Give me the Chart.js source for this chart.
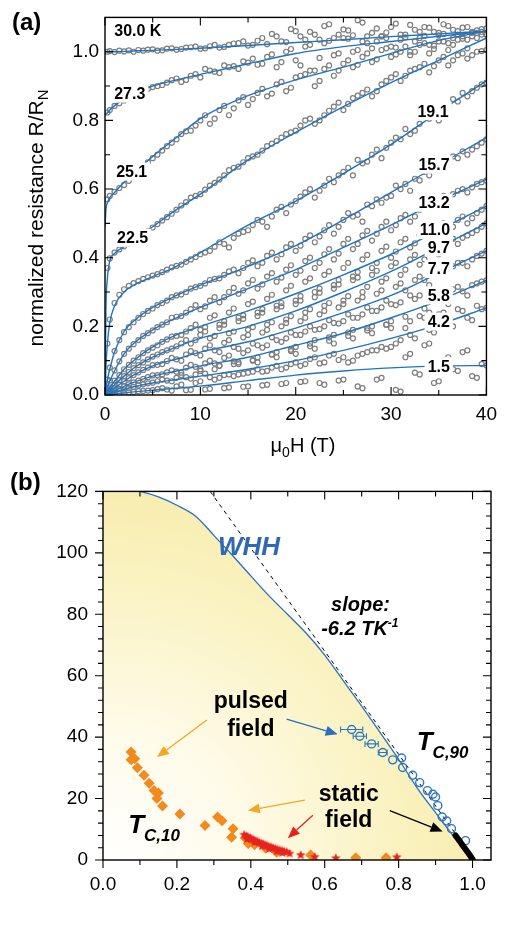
<!DOCTYPE html>
<html lang="en">
<head>
<meta charset="UTF-8">
<title>Magnetoresistance and phase diagram</title>
<script src="https://cdn.jsdelivr.net/npm/chart.js"></script>
<style>
  body { margin: 0; padding: 0; background: #fff; }
  #wrap { position: relative; width: 505px; height: 933px; }
  #wrap canvas { position: absolute; left: 0; }
  #chartA { top: 0; }
  #chartB { top: 465px; }
</style>
</head>
<body>
<div id="wrap">
  <canvas id="chartA" width="505" height="465" style="width:505px;height:465px"></canvas>
  <canvas id="chartB" width="505" height="468" style="width:505px;height:468px"></canvas>
</div>
<script>
// ---------- panel (a): R/RN vs field ----------
const A_GRID_H = [0.25, 0.5, 1, 1.5, 2, 2.5, 3, 3.5, 4,
  5, 6, 7, 8, 9, 10, 11, 12, 13, 14, 15, 16,
  17, 18, 19, 20, 21, 22, 23, 24, 25, 26, 27, 28,
  29, 30, 31, 32, 33, 34, 35, 36, 37, 38, 39, 40];
const A_GRID_H2 = [4.5, 5.5, 6.5, 7.5, 8.5, 9.5, 10.5, 11.5, 12.5, 13.5, 14.5, 15.5,
  16.5, 17.5, 18.5, 19.5, 20.5, 21.5, 22.5, 23.5, 24.5, 25.5, 26.5, 27.5,
  28.5, 29.5, 30.5, 31.5, 32.5, 33.5, 34.5, 35.5, 36.5, 37.5, 38.5, 39.5];
const A_FIT_H = [0, 0.1, 0.25, 0.5, 1, 2, 3, 5, 7.5, 10, 15, 20, 25, 30, 35, 40];
const A_X_TICKS = [0, 10, 20, 30, 40];
const A_Y_TICKS = [0, 0.2, 0.4, 0.6, 0.8, 1.0];

// measured points (gray circles) at A_GRID_H
const PTS_30_0 = [1.000,1.002,0.999,1.003,1.001,1.004,1.000,1.005,1.003,
  1.007,1.004,1.010,1.008,1.013,1.009,1.016,1.012,1.020,1.025,1.018,1.032,
  1.022,1.045,1.028,1.060,1.035,1.050,1.075,1.040,1.065,1.048,1.085,1.055,
  1.045,1.072,1.050,1.078,1.058,1.070,1.055,1.075,1.060,1.072,1.062,1.068];
const PTS_27_3 = [0.823,0.830,0.842,0.850,0.858,0.866,0.872,0.878,0.885,
  0.897,0.903,0.917,0.912,0.930,0.925,0.945,0.938,0.955,0.950,0.968,0.962,
  0.985,0.955,1.000,0.975,1.015,0.945,1.025,0.990,1.040,1.000,1.030,1.010,
  1.045,1.015,1.035,1.000,1.040,1.020,1.048,1.025,1.050,1.035,1.055,1.050];
const PTS_25_1 = [0.570,0.580,0.592,0.603,0.612,0.624,0.638,0.650,0.662,
  0.690,0.712,0.735,0.760,0.770,0.800,0.790,0.830,0.815,0.858,0.845,0.880,
  0.870,0.905,0.885,0.925,0.935,0.900,0.950,0.930,0.965,0.955,0.985,0.970,
  1.005,0.985,1.000,0.990,1.020,0.995,1.030,1.005,1.035,1.010,1.040,1.050];
const PTS_22_5 = [0.370,0.398,0.415,0.424,0.433,0.440,0.449,0.456,0.465,
  0.488,0.508,0.528,0.552,0.575,0.585,0.610,0.628,0.655,0.665,0.690,0.700,
  0.725,0.740,0.760,0.770,0.800,0.790,0.815,0.840,0.830,0.865,0.880,0.870,
  0.905,0.925,0.915,0.945,0.955,0.940,0.975,0.960,0.990,0.980,1.000,1.005];
const PTS_19_1 = [0.150,0.220,0.268,0.292,0.308,0.318,0.326,0.332,0.338,
  0.348,0.358,0.372,0.380,0.395,0.410,0.420,0.445,0.430,0.470,0.480,0.510,
  0.490,0.540,0.530,0.565,0.590,0.575,0.610,0.620,0.650,0.640,0.675,0.700,
  0.690,0.735,0.745,0.760,0.790,0.805,0.800,0.840,0.855,0.870,0.895,0.910];
const PTS_15_7 = [0.045,0.080,0.128,0.160,0.183,0.198,0.212,0.225,0.236,
  0.252,0.268,0.285,0.293,0.310,0.318,0.335,0.340,0.360,0.355,0.385,0.375,
  0.405,0.395,0.430,0.420,0.455,0.445,0.480,0.470,0.510,0.520,0.505,0.550,
  0.560,0.580,0.600,0.595,0.625,0.640,0.655,0.680,0.690,0.700,0.725,0.745];
const PTS_13_2 = [0.020,0.042,0.072,0.098,0.120,0.135,0.148,0.160,0.172,
  0.188,0.205,0.225,0.230,0.250,0.250,0.275,0.270,0.300,0.295,0.325,0.310,
  0.345,0.330,0.365,0.350,0.390,0.370,0.410,0.395,0.440,0.425,0.465,0.450,
  0.490,0.480,0.515,0.505,0.540,0.545,0.570,0.575,0.595,0.590,0.615,0.625];
const PTS_11_0 = [0.010,0.022,0.042,0.058,0.075,0.088,0.100,0.110,0.122,
  0.138,0.155,0.170,0.175,0.195,0.190,0.225,0.205,0.240,0.225,0.265,0.240,
  0.280,0.260,0.305,0.275,0.330,0.300,0.350,0.320,0.370,0.345,0.395,0.370,
  0.420,0.400,0.445,0.430,0.465,0.455,0.490,0.480,0.510,0.500,0.530,0.550];
const PTS_9_7 = [0.008,0.016,0.030,0.043,0.055,0.067,0.078,0.087,0.095,
  0.112,0.125,0.135,0.150,0.150,0.175,0.165,0.195,0.180,0.215,0.190,0.230,
  0.205,0.250,0.220,0.265,0.240,0.285,0.260,0.310,0.275,0.335,0.300,0.350,
  0.330,0.375,0.350,0.395,0.380,0.420,0.410,0.445,0.440,0.465,0.480,0.500];
const PTS_7_7 = [0.005,0.010,0.020,0.030,0.040,0.049,0.058,0.066,0.073,
  0.087,0.090,0.108,0.100,0.128,0.115,0.145,0.125,0.160,0.135,0.175,0.145,
  0.190,0.160,0.210,0.175,0.225,0.190,0.245,0.210,0.265,0.225,0.285,0.245,
  0.305,0.265,0.325,0.290,0.345,0.320,0.365,0.350,0.385,0.375,0.405,0.420];
const PTS_5_8 = [0.003,0.006,0.012,0.018,0.025,0.031,0.037,0.042,0.047,
  0.057,0.060,0.072,0.065,0.088,0.075,0.100,0.085,0.115,0.090,0.130,0.095,
  0.145,0.110,0.165,0.120,0.185,0.135,0.200,0.150,0.215,0.165,0.235,0.180,
  0.255,0.195,0.270,0.215,0.290,0.240,0.300,0.265,0.315,0.290,0.325,0.334];
const PTS_4_2 = [0.002,0.004,0.008,0.012,0.016,0.020,0.024,0.028,0.031,
  0.036,0.045,0.040,0.058,0.048,0.070,0.052,0.085,0.060,0.095,0.065,0.110,
  0.070,0.125,0.080,0.140,0.090,0.160,0.095,0.175,0.110,0.190,0.120,0.200,
  0.140,0.215,0.160,0.175,0.230,0.190,0.235,0.210,0.250,0.225,0.260,0.254];
const PTS_1_5 = [0.001,0.002,0.003,0.005,0.006,0.008,0.009,0.011,0.012,
  0.014,0.020,0.013,0.030,0.015,0.040,0.018,0.050,0.022,0.060,0.025,0.075,
  0.030,0.085,0.035,0.095,0.040,0.110,0.030,0.120,0.045,0.100,0.020,0.130,
  0.050,0.140,0.010,0.120,0.060,0.150,0.040,0.110,0.070,0.130,0.050,0.086];

// second sweep of measured points at A_GRID_H2
const PTS2_30_0 = [1.006,1.003,1.009,1.006,1.012,1.015,1.010,1.020,1.014,1.024,1.030,1.020,
  1.040,1.052,1.030,1.066,1.045,1.058,1.035,1.080,1.050,1.062,1.092,1.045,
  1.068,1.056,1.082,1.050,1.064,1.072,1.058,1.080,1.064,1.070,1.058,1.066];
const PTS2_27_3 = [0.892,0.900,0.910,0.922,0.918,0.935,0.950,0.942,0.960,0.958,0.972,0.980,
  0.965,0.992,0.970,1.008,0.960,1.020,0.982,1.032,0.995,1.038,1.005,1.025,
  1.030,1.040,1.012,1.042,1.030,1.046,1.018,1.052,1.040,1.045,1.055,1.058];
const PTS2_25_1 = [0.678,0.700,0.725,0.745,0.768,0.785,0.815,0.805,0.842,0.835,0.868,0.862,
  0.892,0.878,0.912,0.895,0.930,0.945,0.915,0.960,0.945,0.975,0.962,0.995,
  0.978,1.010,0.992,1.015,1.000,1.025,1.008,1.030,1.020,1.038,1.045,1.050];
const PTS2_22_5 = [0.477,0.498,0.518,0.540,0.562,0.580,0.598,0.618,0.640,0.662,0.678,0.695,
  0.712,0.732,0.750,0.765,0.785,0.805,0.800,0.828,0.852,0.848,0.872,0.890,
  0.885,0.915,0.935,0.930,0.950,0.965,0.958,0.985,0.975,0.995,0.990,1.002];
const PTS2_19_1 = [0.343,0.352,0.365,0.376,0.388,0.402,0.415,0.432,0.440,0.458,0.475,0.495,
  0.505,0.520,0.548,0.555,0.578,0.600,0.595,0.630,0.640,0.662,0.685,0.680,
  0.715,0.720,0.750,0.775,0.770,0.815,0.830,0.825,0.862,0.880,0.885,0.905];
const PTS2_15_7 = [0.245,0.262,0.275,0.290,0.300,0.314,0.325,0.338,0.350,0.365,0.370,0.392,
  0.385,0.415,0.410,0.440,0.435,0.465,0.462,0.495,0.490,0.530,0.525,0.555,
  0.570,0.575,0.610,0.615,0.630,0.650,0.660,0.670,0.695,0.710,0.715,0.735];
const PTS2_13_2 = [0.180,0.198,0.212,0.228,0.240,0.262,0.258,0.285,0.285,0.312,0.305,0.335,
  0.322,0.355,0.342,0.378,0.362,0.400,0.385,0.425,0.412,0.455,0.440,0.478,
  0.470,0.505,0.495,0.525,0.520,0.555,0.560,0.580,0.585,0.600,0.605,0.620];
const PTS2_11_0 = [0.130,0.145,0.162,0.172,0.185,0.205,0.198,0.232,0.215,0.252,0.232,0.272,
  0.250,0.292,0.268,0.318,0.288,0.340,0.310,0.360,0.335,0.385,0.358,0.408,
  0.385,0.432,0.418,0.455,0.442,0.478,0.468,0.500,0.490,0.520,0.515,0.540];
const PTS2_9_7 = [0.104,0.118,0.130,0.142,0.160,0.160,0.185,0.172,0.205,0.185,0.222,0.198,
  0.240,0.212,0.258,0.230,0.275,0.250,0.298,0.268,0.322,0.288,0.342,0.315,
  0.362,0.340,0.385,0.365,0.408,0.395,0.432,0.425,0.455,0.458,0.472,0.490];
const PTS2_7_7 = [0.080,0.088,0.099,0.104,0.118,0.122,0.135,0.130,0.152,0.140,0.168,0.150,
  0.182,0.168,0.200,0.182,0.215,0.200,0.235,0.218,0.255,0.235,0.275,0.255,
  0.295,0.275,0.315,0.305,0.335,0.335,0.355,0.362,0.375,0.385,0.395,0.412];
const PTS2_5_8 = [0.052,0.058,0.066,0.068,0.080,0.082,0.092,0.092,0.108,0.098,0.122,0.102,
  0.138,0.118,0.155,0.128,0.175,0.142,0.192,0.158,0.208,0.172,0.225,0.188,
  0.245,0.205,0.262,0.228,0.280,0.252,0.295,0.278,0.308,0.302,0.320,0.330];
const PTS2_4_2 = [0.034,0.040,0.042,0.050,0.052,0.060,0.062,0.075,0.058,0.090,0.062,0.100,
  0.068,0.118,0.075,0.132,0.085,0.150,0.092,0.168,0.102,0.182,0.115,0.195,
  0.130,0.205,0.150,0.195,0.165,0.225,0.182,0.240,0.200,0.245,0.218,0.250];
const PTS2_1_5 = [0.013,0.017,0.016,0.025,0.014,0.035,0.016,0.045,0.020,0.055,0.024,0.068,
  0.028,0.080,0.032,0.090,0.038,0.105,0.035,0.115,0.042,0.095,0.025,0.125,
  0.045,0.135,0.015,0.110,0.065,0.145,0.035,0.100,0.075,0.125,0.055,0.090];

// fit curves (blue lines), sampled at A_FIT_H
const FIT_30_0 = [1.0,1.0,1.0,1.0,1.0,1.001,1.002,1.004,1.007,1.01,1.018,1.027,1.035,1.044,1.052,1.06];
const FIT_27_3 = [0.815,0.818,0.822,0.83,0.843,0.862,0.877,0.9,0.918,0.934,0.965,0.995,1.015,1.03,1.045,1.06];
const FIT_25_1 = [0.49,0.54,0.56,0.575,0.59,0.62,0.645,0.695,0.75,0.805,0.872,0.918,0.955,0.995,1.033,1.06];
const FIT_22_5 = [0,0.25,0.34,0.39,0.412,0.432,0.45,0.49,0.54,0.585,0.685,0.765,0.84,0.91,0.975,1.04];
const FIT_19_1 = [0,0.08,0.15,0.21,0.26,0.3,0.32,0.345,0.375,0.415,0.495,0.565,0.645,0.73,0.825,0.915];
const FIT_15_7 = [0,0.02,0.045,0.075,0.125,0.185,0.215,0.255,0.29,0.32,0.375,0.435,0.51,0.59,0.67,0.75];
const FIT_13_2 = [0,0.01,0.025,0.04,0.07,0.12,0.15,0.19,0.225,0.255,0.31,0.365,0.43,0.495,0.565,0.628];
const FIT_11_0 = [0,0.005,0.012,0.022,0.04,0.075,0.1,0.14,0.175,0.2,0.245,0.295,0.35,0.41,0.48,0.55];
const FIT_9_7 = [0,0.004,0.009,0.016,0.03,0.055,0.078,0.11,0.14,0.165,0.2,0.245,0.3,0.36,0.43,0.5];
const FIT_7_7 = [0,0.002,0.005,0.01,0.02,0.04,0.058,0.085,0.105,0.125,0.155,0.195,0.24,0.29,0.355,0.42];
const FIT_5_8 = [0,0.001,0.003,0.006,0.012,0.025,0.037,0.055,0.07,0.085,0.11,0.145,0.18,0.225,0.275,0.334];
const FIT_4_2 = [0,0.001,0.002,0.004,0.008,0.016,0.024,0.035,0.045,0.055,0.075,0.1,0.13,0.165,0.205,0.254];
const FIT_1_5 = [0,0,0.001,0.002,0.003,0.006,0.009,0.014,0.02,0.026,0.042,0.058,0.07,0.079,0.084,0.086];

const A_PTS = [PTS_30_0, PTS_27_3, PTS_25_1, PTS_22_5, PTS_19_1, PTS_15_7, PTS_13_2,
  PTS_11_0, PTS_9_7, PTS_7_7, PTS_5_8, PTS_4_2, PTS_1_5];
const A_PTS2 = [PTS2_30_0, PTS2_27_3, PTS2_25_1, PTS2_22_5, PTS2_19_1, PTS2_15_7, PTS2_13_2,
  PTS2_11_0, PTS2_9_7, PTS2_7_7, PTS2_5_8, PTS2_4_2, PTS2_1_5];
const A_FITS = [FIT_30_0, FIT_27_3, FIT_25_1, FIT_22_5, FIT_19_1, FIT_15_7, FIT_13_2,
  FIT_11_0, FIT_9_7, FIT_7_7, FIT_5_8, FIT_4_2, FIT_1_5];

// temperature labels (text, field, R/RN)
const A_LABELS = ['30.0 K', '27.3', '25.1', '22.5', '19.1', '15.7', '13.2', '11.0', '9.7', '7.7', '5.8', '4.2', '1.5'];
const A_LABEL_H = [3.44, 2.6, 2.8, 2.9, 34.4, 34.5, 34.5, 34.6, 35.0, 35.0, 35.0, 35.0, 35.0];
const A_LABEL_R = [1.061, 0.878, 0.651, 0.458, 0.827, 0.671, 0.56, 0.481, 0.43, 0.367, 0.29, 0.214, 0.084];

// ---------- panel (b): phase diagram ----------
const B_X_TICKS = [0, 0.2, 0.4, 0.6, 0.8, 1.0];
const B_Y_TICKS = [0, 20, 40, 60, 80, 100, 120];

const WHH_T = [0,0.05,0.1,0.15,0.2,0.25,0.3,0.35,0.4,0.45,0.5,0.55,0.6,0.65,0.7,0.75,0.8,0.85,0.9,0.95,1.0];
const WHH_H = [121.5,121.0,120.0,118.2,115.5,112.0,105.7,99.2,92.5,85.9,79.9,73.8,66.7,58.4,50.1,41.5,32.8,23.5,15.4,7.5,0];

const SLOPE_T = [0.29, 1.005];
const SLOPE_H = [120, 0];

const PULSED10_T = [0.076,0.076,0.086,0.093,0.111,0.125,0.138,0.15,0.146,0.161,0.208,0.276,0.31,0.322,0.352,0.348,0.385,0.393,0.41,0.44,0.47,0.562,0.684,0.766];
const PULSED10_H = [35.2,32.6,33.0,30.0,27.6,25.0,22.6,21.8,20.0,17.6,15.0,11.2,14.0,12.8,10.2,7.4,7.2,5.4,5.0,3.8,2.5,1.6,0.7,0.7];

const STATIC10_T = [0.382,0.388,0.392,0.398,0.402,0.407,0.412,0.417,0.422,0.428,0.433,0.438,0.443,0.448,0.454,0.46,0.466,0.472,0.478,0.484,0.49,0.497,0.39,0.41,0.43,0.45,0.47,0.485,0.505,0.535,0.573,0.63,0.795];
const STATIC10_H = [8.2,7.8,7.4,7.2,6.8,6.6,6.2,6.0,5.7,5.4,5.2,4.9,4.7,4.4,4.2,3.9,3.7,3.4,3.2,3.0,2.8,2.6,6.8,5.8,4.5,3.6,2.8,2.3,2.1,1.6,1.0,0.6,0.9];

const PULSED90_T = [0.673,0.695,0.727,0.757,0.784,0.808,0.811,0.838,0.857,0.878,0.893,0.9,0.906,0.918,0.93,0.943,0.981];
const PULSED90_H = [42.5,40.3,37.8,35.0,32.6,33.2,30.1,27.6,25.2,22.6,21.4,20.5,17.7,14.0,12.7,10.2,6.3];
const PULSED90_ERR = [0.03,0.018,0.018,0.012,0,0,0,0,0,0,0,0,0,0,0,0,0];

const STATIC90_T = [0.954,0.96,0.966,0.972,0.978,0.984,0.99,0.996,1.0];
const STATIC90_H = [8.0,7.0,6.0,5.0,4.0,3.0,2.0,1.0,0.3];

// arrows: tail -> head, in (t, H)
const ARROW_FROM_T = [0.281, 0.497, 0.546, 0.568, 0.776];
const ARROW_FROM_H = [45.6, 45.9, 19.5, 14.6, 16.1];
const ARROW_TO_T = [0.146, 0.635, 0.392, 0.500, 0.919];
const ARROW_TO_H = [33.5, 40.9, 16.1, 7.1, 9.3];
const ARROW_COLOR = ['#f5a623', '#2a6fc0', '#f5a623', '#e8231f', '#000000'];

const F = "'Liberation Sans', Arial, Helvetica, sans-serif";
const pts = (xs, ys) => xs.map((x, i) => ({ x: x, y: ys[i] }));

function rich(ctx, x, y, parts, align) {
  let w = 0;
  parts.forEach(p => { ctx.font = p[1]; w += ctx.measureText(p[0]).width; });
  let cx = align === 'center' ? x - w / 2 : (align === 'right' ? x - w : x);
  ctx.textAlign = 'left';
  ctx.textBaseline = 'alphabetic';
  parts.forEach(p => {
    ctx.font = p[1];
    ctx.fillText(p[0], cx, y + (p[2] || 0));
    cx += ctx.measureText(p[0]).width;
  });
  return w;
}

function drawFrame(chart, spec) {
  const { ctx, chartArea: a, scales: { x, y } } = chart;
  ctx.save();
  ctx.strokeStyle = '#000';
  ctx.lineWidth = 1.4;
  ctx.strokeRect(a.left, a.top, a.right - a.left, a.bottom - a.top);
  ctx.lineWidth = 1.1;
  ctx.beginPath();
  const xt = (vals, len) => vals.forEach(v => {
    const p = x.getPixelForValue(v);
    ctx.moveTo(p, a.bottom); ctx.lineTo(p, spec.outBottom ? a.bottom + len : a.bottom - len);
    ctx.moveTo(p, a.top); ctx.lineTo(p, a.top + len);
  });
  const yt = (vals, len) => vals.forEach(v => {
    const p = y.getPixelForValue(v);
    ctx.moveTo(a.left, p); ctx.lineTo(spec.outLeft ? a.left - len : a.left + len, p);
    ctx.moveTo(a.right, p); ctx.lineTo(a.right - len, p);
  });
  xt(spec.xMajor, 8); xt(spec.xMinor, 5);
  yt(spec.yMajor, 8); yt(spec.yMinor, 5);
  ctx.stroke();
  ctx.restore();
}

function arrow(ctx, x1, y1, x2, y2, color) {
  const ang = Math.atan2(y2 - y1, x2 - x1);
  const hl = 12, hw = 5;
  ctx.strokeStyle = color; ctx.fillStyle = color; ctx.lineWidth = 1.3;
  ctx.beginPath();
  ctx.moveTo(x1, y1);
  ctx.lineTo(x2 - hl * Math.cos(ang), y2 - hl * Math.sin(ang));
  ctx.stroke();
  ctx.beginPath();
  ctx.moveTo(x2, y2);
  ctx.lineTo(x2 - hl * Math.cos(ang) + hw * Math.sin(ang), y2 - hl * Math.sin(ang) - hw * Math.cos(ang));
  ctx.lineTo(x2 - hl * Math.cos(ang) - hw * Math.sin(ang), y2 - hl * Math.sin(ang) + hw * Math.cos(ang));
  ctx.closePath();
  ctx.fill();
}

function makeStar(r, color) {
  const c = document.createElement('canvas');
  const s = Math.ceil(r * 2 + 2);
  c.width = s; c.height = s;
  const g = c.getContext('2d');
  g.fillStyle = color;
  g.beginPath();
  for (let k = 0; k < 10; k++) {
    const rr = k % 2 ? r * 0.45 : r;
    const an = -Math.PI / 2 + k * Math.PI / 5;
    g.lineTo(s / 2 + rr * Math.cos(an), s / 2 + rr * Math.sin(an));
  }
  g.closePath();
  g.fill();
  return c;
}

const baseScale = (min, max, ticks, fmt, pad, fit) => ({
  type: 'linear', min: min, max: max,
  grid: { display: false, drawTicks: false },
  border: { display: false },
  afterBuildTicks: s => { s.ticks = ticks.map(v => ({ value: v })); },
  afterFit: fit,
  ticks: { padding: pad, color: '#000', autoSkip: false, maxRotation: 0,
    font: { family: F, size: 19 }, callback: fmt }
});

// ---------- chart A ----------
const grayPts = data => ({
  data: data, showLine: false, order: 2,
  pointRadius: 2.5, pointBorderWidth: 1.2, pointBorderColor: '#7d7d7d',
  pointBackgroundColor: 'rgba(255,255,255,0)'
});
const dsA = [];
A_PTS.forEach(p => dsA.push(grayPts(pts(A_GRID_H, p))));
A_PTS2.forEach(p => dsA.push(grayPts(pts(A_GRID_H2, p))));
A_FITS.forEach(f => dsA.push({
  data: pts(A_FIT_H, f), showLine: true, order: 1, fill: false,
  borderColor: '#1f74c2', borderWidth: 1.4, pointRadius: 0,
  cubicInterpolationMode: 'monotone'
}));

new Chart(document.getElementById('chartA'), {
  type: 'line',
  data: { datasets: dsA },
  options: {
    responsive: false, animation: false, events: [],
    layout: { autoPadding: false, padding: { left: 0, top: 5, right: 11, bottom: 0 } },
    plugins: { legend: { display: false }, tooltip: { enabled: false } },
    scales: {
      x: baseScale(0, 40, A_X_TICKS, v => String(v), 8, s => { s.height = 70; }),
      y: baseScale(0, 1.1, A_Y_TICKS, v => v.toFixed(1), 6, s => { s.width = 105; })
    }
  },
  plugins: [{
    id: 'panelA',
    afterDatasetsDraw(chart) {
      const { ctx, scales: { x, y } } = chart;
      ctx.save();
      ctx.font = 'bold 16px ' + F;
      A_LABELS.forEach((t, i) => {
        const px = x.getPixelForValue(A_LABEL_H[i]);
        const py = y.getPixelForValue(A_LABEL_R[i]);
        const w = ctx.measureText(t).width;
        ctx.fillStyle = '#fff';
        ctx.fillRect(px - w / 2 - 3, py - 9, w + 6, 18);
        ctx.fillStyle = '#000';
        ctx.textAlign = 'center';
        ctx.textBaseline = 'middle';
        ctx.fillText(t, px, py + 1);
      });
      ctx.restore();
      drawFrame(chart, {
        xMajor: [0, 10, 20, 30, 40], xMinor: [5, 15, 25, 35],
        yMajor: [0, 0.2, 0.4, 0.6, 0.8, 1.0], yMinor: [0.1, 0.3, 0.5, 0.7, 0.9],
        outLeft: false, outBottom: false
      });
      ctx.save();
      ctx.fillStyle = '#000';
      rich(ctx, 303, 452, [['\u03bc', '20px ' + F], ['0', '14px ' + F, 5], ['H (T)', '20px ' + F]], 'center');
      ctx.translate(43, 218);
      ctx.rotate(-Math.PI / 2);
      rich(ctx, 0, 0, [['normalized resistance R/R', '21px ' + F], ['N', '15px ' + F, 5]], 'center');
      ctx.restore();
      ctx.save();
      ctx.fillStyle = '#000';
      ctx.font = 'bold 24px ' + F;
      ctx.textAlign = 'left';
      ctx.textBaseline = 'alphabetic';
      ctx.fillText('(a)', 12, 30);
      ctx.restore();
    }
  }]
});

// ---------- chart B ----------
const star = makeStar(5, '#e8231f');

new Chart(document.getElementById('chartB'), {
  type: 'line',
  data: {
    datasets: [
      {
        data: pts(WHH_T, WHH_H), showLine: true, order: 10, pointRadius: 0,
        borderColor: '#2a6fc0', borderWidth: 1.3, cubicInterpolationMode: 'monotone',
        fill: 'origin',
        backgroundColor: c => {
          const a = c.chart.chartArea;
          if (!a) return 'rgba(0,0,0,0)';
          const g = c.chart.ctx.createRadialGradient(a.left + 10, a.bottom, 0, a.left + 10, a.bottom, 440);
          g.addColorStop(0, '#ffffff');
          g.addColorStop(0.3, '#fefbe8');
          g.addColorStop(0.65, '#faf2c0');
          g.addColorStop(1, '#f6e9a2');
          return g;
        }
      },
      {
        data: pts(SLOPE_T, SLOPE_H), showLine: true, order: 9, pointRadius: 0, fill: false,
        borderColor: '#000', borderWidth: 1, borderDash: [4, 4]
      },
      {
        data: pts(PULSED10_T, PULSED10_H), showLine: false, order: 5,
        pointStyle: 'rectRot', pointRadius: 5.5, pointBorderWidth: 0,
        pointBackgroundColor: '#f28a1e', pointBorderColor: '#f28a1e'
      },
      {
        data: pts(STATIC10_T, STATIC10_H), showLine: false, order: 4,
        pointStyle: star, pointRadius: 5
      },
      {
        data: pts(PULSED90_T, PULSED90_H), showLine: false, order: 3,
        pointStyle: 'circle', pointRadius: 4, pointBorderWidth: 1.4,
        pointBorderColor: '#2a78c4', pointBackgroundColor: 'rgba(255,255,255,0)'
      },
      {
        data: pts(STATIC90_T, STATIC90_H), showLine: true, order: 2, pointRadius: 0, fill: false,
        borderColor: '#000', borderWidth: 6, borderCapStyle: 'round'
      }
    ]
  },
  options: {
    responsive: false, animation: false, events: [],
    layout: { autoPadding: false, padding: { left: 0, top: 8, right: 14, bottom: 0 } },
    plugins: { legend: { display: false }, tooltip: { enabled: false } },
    scales: {
      x: baseScale(0, 1.05, B_X_TICKS, v => v.toFixed(1), 13, s => { s.height = 73; }),
      y: baseScale(0, 120, B_Y_TICKS, v => String(v), 15, s => { s.width = 103; })
    }
  },
  plugins: [{
    id: 'panelB',
    afterDatasetsDraw(chart) {
      const { ctx, scales: { x, y } } = chart;
      ctx.save();
      // error bars
      ctx.strokeStyle = '#2a78c4';
      ctx.lineWidth = 1.1;
      ctx.beginPath();
      PULSED90_T.forEach((t, i) => {
        const e = PULSED90_ERR[i];
        if (!e) return;
        const x1 = x.getPixelForValue(t - e), x2 = x.getPixelForValue(t + e), py = y.getPixelForValue(PULSED90_H[i]);
        ctx.moveTo(x1, py); ctx.lineTo(x2, py);
        ctx.moveTo(x1, py - 3); ctx.lineTo(x1, py + 3);
        ctx.moveTo(x2, py - 3); ctx.lineTo(x2, py + 3);
      });
      ctx.stroke();
      // arrows
      ARROW_FROM_T.forEach((t, i) => arrow(ctx,
        x.getPixelForValue(t), y.getPixelForValue(ARROW_FROM_H[i]),
        x.getPixelForValue(ARROW_TO_T[i]), y.getPixelForValue(ARROW_TO_H[i]), ARROW_COLOR[i]));
      // texts
      const X = v => x.getPixelForValue(v), Y = v => y.getPixelForValue(v);
      ctx.fillStyle = '#2f68b5';
      rich(ctx, X(0.395), Y(99.2), [['WHH', 'italic bold 26px ' + F]], 'center');
      ctx.fillStyle = '#000';
      rich(ctx, X(0.697), Y(81.2), [['slope:', 'italic bold 20px ' + F]], 'center');
      rich(ctx, X(0.695), Y(73.2), [['-6.2 TK', 'italic bold 20px ' + F], ['-1', 'italic bold 12px ' + F, -8]], 'center');
      rich(ctx, X(0.40), Y(49.6), [['pulsed', 'bold 23px ' + F]], 'center');
      rich(ctx, X(0.40), Y(40.3), [['field', 'bold 23px ' + F]], 'center');
      rich(ctx, X(0.665), Y(19.2), [['static', 'bold 23px ' + F]], 'center');
      rich(ctx, X(0.665), Y(10.9), [['field', 'bold 23px ' + F]], 'center');
      rich(ctx, X(0.849), Y(35.7), [['T', 'italic bold 26px ' + F], ['C,90', 'italic bold 17px ' + F, 8]], 'left');
      rich(ctx, X(0.068), Y(8.7), [['T', 'italic bold 26px ' + F], ['C,10', 'italic bold 17px ' + F, 8]], 'left');
      ctx.restore();
      drawFrame(chart, {
        xMajor: [0, 0.2, 0.4, 0.6, 0.8, 1.0], xMinor: [0.1, 0.3, 0.5, 0.7, 0.9],
        yMajor: [0, 20, 40, 60, 80, 100, 120],
        yMinor: [4, 8, 12, 16, 24, 28, 32, 36, 44, 48, 52, 56, 64, 68, 72, 76, 84, 88, 92, 96, 104, 108, 112, 116],
        outLeft: true, outBottom: true
      });
      ctx.save();
      ctx.fillStyle = '#000';
      rich(ctx, 297, 925, [['t = T/T', '21px ' + F], ['C', '15px ' + F, 5]], 'center');
      ctx.translate(40, 652);
      ctx.rotate(-Math.PI / 2);
      rich(ctx, 0, 0, [['\u03bc', '22px ' + F], ['0', '15px ' + F, 5], ['H (T)', '22px ' + F]], 'center');
      ctx.restore();
      ctx.save();
      ctx.fillStyle = '#000';
      ctx.font = 'bold 24px ' + F;
      ctx.textAlign = 'left';
      ctx.textBaseline = 'alphabetic';
      ctx.fillText('(b)', 10, 25);
      ctx.restore();
    }
  }]
});
</script>
</body>
</html>
